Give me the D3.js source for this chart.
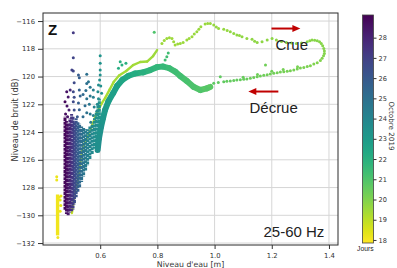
<!DOCTYPE html>
<html>
<head>
<meta charset="utf-8">
<script src="https://cdn.jsdelivr.net/npm/d3@7/dist/d3.min.js"></script>
<style>
  body { margin: 0; background: #fff; }
  svg { display: block; }
</style>
</head>
<body>
<svg id="chart" width="397" height="268"></svg>
<script>
// ---- data: [water level (m), noise (dB), day of October] ----
const levelTicks = [0.6, 0.8, 1.0, 1.2, 1.4];
const levelLabels = ["0.6", "0.8", "1.0", "1.2", "1.4"];
const noiseTicks = [-116, -118, -120, -122, -124, -126, -128, -130, -132];
const noiseLabels = ["\u2212116", "118", "120", "122", "124", "126", "128", "\u2212130", "\u2212132"];
const dayTicks = [18, 19, 20, 21, 22, 23, 24, 25, 26, 27, 28];

// dense vertical runs of points: [level, top, bottom, day]
const denseRuns = [
  [0.451, -128.5, -131.45, 18.1],
  [0.597, -121.6, -124.2, 23.3],
  [0.592, -122.0, -124.7, 23.4],
  [0.586, -122.6, -124.9, 23.5],
  [0.580, -123.0, -125.2, 23.6],
  [0.572, -123.4, -125.6, 23.8],
  [0.564, -123.6, -126.0, 24.0],
  [0.556, -123.8, -126.4, 24.2],
  [0.549, -123.8, -126.8, 24.4],
  [0.542, -123.7, -127.2, 24.7],
  [0.535, -123.6, -127.6, 25.0],
  [0.528, -123.4, -128.0, 25.3],
  [0.522, -123.3, -128.3, 25.7],
  [0.516, -123.0, -128.7, 26.1],
  [0.510, -123.2, -129.2, 26.5],
  [0.505, -122.9, -129.6, 26.9],
  [0.500, -122.7, -129.7, 27.3],
  [0.494, -123.0, -129.8, 27.8],
  [0.488, -123.4, -130.0, 28.3],
  [0.482, -123.2, -129.9, 28.7],
  [0.477, -122.9, -129.6, 28.9]
];

const yellowDots = [
  [0.448, -127.22, 18.2], [0.448, -127.46, 18.2], [0.460, -128.9, 18.2], [0.462, -129.3, 18.25],
  [0.460, -129.7, 18.2], [0.456, -128.7, 18.15], [0.463, -128.6, 18.3], [0.452, -131.6, 18.1]
];

// rising limb, dense part
const crueStrand = [
  [0.501, -129.84, 18.9], [0.506, -129.1, 18.95], [0.512, -128.32, 19.0], [0.519, -127.82, 19.0],
  [0.528, -126.59, 19.05], [0.537, -125.30, 19.1], [0.547, -124.72, 19.1], [0.558, -124.29, 19.15],
  [0.572, -123.50, 19.2], [0.588, -122.63, 19.2], [0.606, -121.91, 19.25], [0.617, -121.55, 19.3],
  [0.633, -120.94, 19.3], [0.647, -120.40, 19.35], [0.666, -119.93, 19.35], [0.691, -119.60, 19.4],
  [0.715, -119.17, 19.4], [0.740, -118.95, 19.45], [0.764, -118.92, 19.45], [0.785, -118.52, 19.5],
  [0.799, -118.09, 19.5]
];

// rising limb, sparse part (Crue)
const crueDots = [
  [0.816, -117.61, 19.5], [0.824, -117.41, 19.5], [0.833, -117.25, 19.5], [0.842, -117.2, 19.5],
  [0.851, -117.25, 19.5], [0.857, -117.5, 19.5], [0.862, -117.73, 19.5], [0.871, -117.65, 19.5],
  [0.880, -117.61, 19.55], [0.890, -117.55, 19.55], [0.903, -117.37, 19.55], [0.911, -117.26, 19.55],
  [0.921, -117.13, 19.55], [0.929, -116.94, 19.6], [0.938, -116.77, 19.6], [0.945, -116.6, 19.6],
  [0.952, -116.41, 19.6], [0.967, -116.22, 19.6], [0.976, -116.18, 19.6], [0.985, -116.17, 19.6],
  [0.997, -116.29, 19.65], [1.006, -116.42, 19.65], [1.014, -116.53, 19.65], [1.032, -116.60, 19.65],
  [1.044, -116.68, 19.65], [1.055, -116.77, 19.7], [1.067, -116.89, 19.7], [1.078, -117.01, 19.7],
  [1.087, -117.05, 19.7], [1.096, -117.13, 19.7], [1.113, -117.25, 19.7], [1.131, -117.32, 19.75],
  [1.140, -117.45, 19.75], [1.149, -117.54, 19.75], [1.166, -117.49, 19.75], [1.184, -117.37, 19.75],
  [1.201, -117.25, 19.8], [1.216, -117.37, 19.8], [1.234, -117.48, 19.8], [1.251, -117.55, 19.8],
  [1.269, -117.59, 19.8], [1.286, -117.61, 19.85], [1.304, -117.59, 19.85], [1.324, -117.49, 19.85],
  [1.333, -117.42, 19.85], [1.341, -117.37, 19.85], [1.350, -117.38, 19.9], [1.359, -117.42, 19.9],
  [1.367, -117.5, 19.9], [1.373, -117.61, 19.9], [1.378, -117.78, 19.9], [1.382, -117.97, 19.95],
  [1.384, -118.15, 19.95], [1.384, -118.33, 19.95], [1.381, -118.5, 19.95], [1.376, -118.69, 20.0]
];

// falling limb, sparse part (Décrue)
const decrueDots = [
  [1.370, -118.85, 20.0], [1.359, -119.00, 20.0], [1.347, -119.10, 20.05], [1.335, -119.22, 20.05],
  [1.324, -119.28, 20.1], [1.312, -119.34, 20.1], [1.300, -119.39, 20.1], [1.289, -119.46, 20.15],
  [1.277, -119.53, 20.15], [1.265, -119.58, 20.2], [1.254, -119.62, 20.2], [1.242, -119.65, 20.2],
  [1.230, -119.68, 20.25], [1.219, -119.73, 20.25], [1.207, -119.77, 20.3], [1.195, -119.82, 20.3],
  [1.184, -119.87, 20.3], [1.178, -119.17, 20.3], [1.172, -119.91, 20.35], [1.160, -119.96, 20.35],
  [1.149, -120.01, 20.4], [1.137, -120.07, 20.4], [1.125, -120.13, 20.4], [1.113, -120.17, 20.45],
  [1.102, -120.20, 20.45], [1.090, -120.23, 20.5], [1.078, -120.25, 20.5], [1.067, -120.29, 20.5],
  [1.055, -120.32, 20.55], [1.043, -120.34, 20.55], [1.032, -120.37, 20.6], [1.020, -120.01, 20.6],
  [1.013, -120.43, 20.6], [0.997, -120.49, 20.65], [0.979, -120.68, 20.7], [0.961, -120.85, 20.75],
  [1.290, -119.30, 20.15], [1.240, -119.50, 20.2], [1.200, -119.62, 20.3], [1.150, -119.85, 20.35],
  [1.100, -120.05, 20.45]
];

// falling limb, dense band
const decrueBand = [
  [0.985, -120.75, 20.7], [0.973, -120.85, 20.8], [0.950, -120.97, 20.9], [0.926, -120.74, 21.0],
  [0.903, -120.32, 21.1], [0.880, -119.96, 21.2], [0.862, -119.64, 21.3], [0.841, -119.39, 21.4],
  [0.820, -119.28, 21.5], [0.799, -119.32, 21.6], [0.775, -119.53, 21.8], [0.750, -119.70, 21.9],
  [0.722, -119.78, 22.1], [0.698, -119.96, 22.3], [0.677, -120.25, 22.4], [0.659, -120.68, 22.6],
  [0.645, -121.21, 22.7], [0.629, -121.77, 22.9], [0.617, -122.41, 23.0], [0.610, -122.99, 23.1],
  [0.603, -123.62, 23.3], [0.596, -124.43, 23.5], [0.591, -125.30, 23.6]
];

const strayDots = [
  [0.789, -116.81, 21.0], [0.670, -118.93, 22.0], [0.676, -119.17, 22.0], [0.664, -119.41, 22.1],
  [0.833, -118.57, 21.3], [0.827, -118.81, 21.3], [0.838, -118.3, 21.3], [0.690, -119.05, 22.0]
];

// scattered points above the low-water cluster
const clusterDots = [
  [0.600, -118.50, 23.3], [0.600, -119.05, 23.4], [0.600, -119.53, 23.4], [0.600, -119.89, 23.5],
  [0.598, -120.25, 23.5], [0.602, -120.68, 23.5], [0.605, -121.21, 23.5],
  [0.594, -120.60, 23.7], [0.592, -121.10, 23.7], [0.594, -121.60, 23.7], [0.590, -122.00, 23.8], [0.588, -122.5, 23.8],
  [0.576, -120.97, 24.3], [0.576, -121.50, 24.3], [0.579, -122.20, 24.2], [0.576, -122.8, 24.2],
  [0.559, -120.37, 24.8], [0.565, -120.78, 24.6], [0.565, -121.40, 24.6], [0.562, -122.00, 24.7],
  [0.565, -122.70, 24.5], [0.567, -123.3, 24.4],
  [0.553, -119.84, 25.0], [0.553, -120.50, 25.0], [0.550, -121.00, 25.1], [0.553, -121.60, 24.9],
  [0.547, -122.10, 25.1], [0.553, -122.60, 24.9], [0.540, -122.9, 25.2], [0.540, -121.3, 25.3],
  [0.524, -119.89, 25.9], [0.527, -120.09, 25.8], [0.527, -120.97, 25.8], [0.530, -121.41, 25.6],
  [0.524, -121.9, 25.8], [0.527, -122.4, 25.7], [0.520, -122.9, 26.0],
  [0.506, -116.84, 27.2], [0.506, -118.65, 26.8], [0.506, -119.60, 26.7], [0.501, -119.53, 26.9],
  [0.509, -120.45, 26.6], [0.506, -121.10, 26.6], [0.509, -121.50, 26.5], [0.506, -121.82, 26.6],
  [0.509, -122.41, 26.5],
  [0.495, -120.97, 27.8], [0.483, -121.10, 28.6], [0.488, -121.48, 28.4], [0.477, -121.82, 28.9],
  [0.484, -122.13, 28.6], [0.491, -122.41, 28.2], [0.479, -122.70, 28.8], [0.486, -122.9, 28.5]
];

// ---- drawing ----
const svg = d3.select("#chart");
const plotLeft = 43, plotRight = 338, plotTop = 13, plotBottom = 245;

const x = d3.scaleLinear().domain([0.4, 1.4316]).range([plotLeft, plotRight]);
const y = d3.scaleLinear().domain([-132.14, -115.42]).range([plotBottom, plotTop]);
const color = d3.scaleSequential(d3.interpolateViridis).domain([29.12, 17.85]);

const tickFont = "DejaVu Sans, sans-serif";

const defs = svg.append("defs");
defs.append("clipPath").attr("id", "plotclip")
  .append("rect").attr("x", plotLeft).attr("y", plotTop)
  .attr("width", plotRight - plotLeft).attr("height", plotBottom - plotTop);

// grid
const grid = svg.append("g").attr("stroke", "#d6d6d6").attr("stroke-width", 1);
grid.selectAll(null).data(levelTicks).join("line")
  .attr("x1", d => x(d)).attr("x2", d => x(d)).attr("y1", plotTop).attr("y2", plotBottom);
grid.selectAll(null).data(noiseTicks).join("line")
  .attr("y1", d => y(d)).attr("y2", d => y(d)).attr("x1", plotLeft).attr("x2", plotRight);

const plot = svg.append("g").attr("clip-path", "url(#plotclip)");

function trail(pts, w) {
  plot.append("g").selectAll(null).data(d3.pairs(pts)).join("line")
    .attr("x1", d => x(d[0][0])).attr("y1", d => y(d[0][1]))
    .attr("x2", d => x(d[1][0])).attr("y2", d => y(d[1][1]))
    .attr("stroke", d => color((d[0][2] + d[1][2]) / 2))
    .attr("stroke-width", w).attr("stroke-linecap", "round");
}
function dots(pts, r) {
  plot.append("g").selectAll(null).data(pts).join("circle")
    .attr("cx", d => x(d[0])).attr("cy", d => y(d[1])).attr("r", r)
    .attr("fill", d => color(d[2]));
}

dots(yellowDots, 1.5);
trail(decrueBand, 6);
trail(crueStrand, 2.4);

// dense runs drawn as lightly dashed strokes so they keep a point-cloud texture
plot.append("g").selectAll(null)
  .data(denseRuns.slice().sort((a, b) => a[3] - b[3])).join("line")
  .attr("x1", d => x(d[0])).attr("x2", d => x(d[0]))
  .attr("y1", d => y(d[1])).attr("y2", d => y(d[2]))
  .attr("stroke", d => color(d[3]))
  .attr("stroke-width", d => d[3] < 19 ? 3.4 : 3)
  .attr("stroke-dasharray", d => d[3] < 19 ? null : "3 0.7")
  .attr("stroke-dashoffset", (d, i) => (i % 3) * 1.2);

dots(clusterDots.slice().sort((a, b) => a[2] - b[2]), 1.5);
dots(crueDots, 1.5);
dots(decrueDots, 1.5);
dots(strayDots, 1.5);

// frame
svg.append("rect").attr("x", plotLeft).attr("y", plotTop)
  .attr("width", plotRight - plotLeft).attr("height", plotBottom - plotTop)
  .attr("fill", "none").attr("stroke", "#2b2b2b").attr("stroke-width", 1);

// axes
const xAxis = svg.append("g").attr("transform", `translate(0,${plotBottom})`)
  .call(d3.axisBottom(x).tickValues(levelTicks).tickFormat((d, i) => levelLabels[i]).tickSize(4).tickSizeOuter(0));
const yAxis = svg.append("g").attr("transform", `translate(${plotLeft},0)`)
  .call(d3.axisLeft(y).tickValues(noiseTicks).tickFormat((d, i) => noiseLabels[i]).tickSize(5).tickSizeOuter(0));
[xAxis, yAxis].forEach(a => {
  a.select(".domain").remove();
  a.selectAll(".tick line").attr("stroke", "#333");
  a.selectAll(".tick text").attr("fill", "#333")
    .style("font-family", tickFont).style("font-size", "6.8px");
});
xAxis.selectAll(".tick text").attr("dy", null).attr("y", 13);
yAxis.selectAll(".tick text").attr("x", -8);

svg.append("text").attr("x", (plotLeft + plotRight) / 2).attr("y", 266.5)
  .attr("text-anchor", "middle").attr("fill", "#333")
  .style("font-family", tickFont).style("font-size", "7.8px")
  .text("Niveau d'eau [m]");
svg.append("text").attr("transform", "translate(18,120) rotate(-90)")
  .attr("text-anchor", "middle").attr("fill", "#333")
  .style("font-family", tickFont).style("font-size", "8.2px")
  .text("Niveau de bruit (dB)");

// annotations
const textFont = "Liberation Sans, Arial, sans-serif";
svg.append("text").attr("x", x(0.4175)).attr("y", y(-117.01))
  .style("font-family", textFont).style("font-weight", "bold").style("font-size", "15px")
  .attr("fill", "#111").text("Z");
svg.append("text").attr("x", x(1.171)).attr("y", y(-131.57))
  .style("font-family", textFont).style("font-size", "15px").attr("fill", "#222").text("25-60 Hz");
svg.append("text").attr("x", x(1.213)).attr("y", y(-118.09))
  .style("font-family", textFont).style("font-size", "15px").attr("fill", "#222").text("Crue");
svg.append("text").attr("x", x(1.122)).attr("y", y(-122.61))
  .style("font-family", textFont).style("font-size", "15px").attr("fill", "#222").text("D\u00e9crue");

const arrows = [
  { from: [1.199, -116.54], to: [1.300, -116.54] },
  { from: [1.223, -121.08], to: [1.118, -121.08] }
];
arrows.forEach(a => {
  const x0 = x(a.from[0]), x1 = x(a.to[0]), yy = y(a.from[1]);
  const dir = Math.sign(x1 - x0);
  svg.append("line").attr("x1", x0).attr("x2", x1 - dir * 7).attr("y1", yy).attr("y2", yy)
    .attr("stroke", "#c00000").attr("stroke-width", 2);
  svg.append("path")
    .attr("d", `M${x1},${yy}L${x1 - dir * 8},${yy - 3.5}L${x1 - dir * 8},${yy + 3.5}Z`)
    .attr("fill", "#c00000");
});

// colorbar
const cbX = 362.5, cbW = 11, cbTop = 15, cbBottom = 243;
const cy = d3.scaleLinear().domain([17.85, 29.12]).range([cbBottom, cbTop]);
const grad = defs.append("linearGradient").attr("id", "cbgrad")
  .attr("x1", 0).attr("y1", 1).attr("x2", 0).attr("y2", 0);
grad.selectAll("stop").data(d3.range(0, 1.0001, 0.05)).join("stop")
  .attr("offset", d => d)
  .attr("stop-color", d => color(cy.domain()[0] + d * (cy.domain()[1] - cy.domain()[0])));
svg.append("rect").attr("x", cbX).attr("y", cbTop).attr("width", cbW).attr("height", cbBottom - cbTop)
  .attr("fill", "url(#cbgrad)").attr("stroke", "#444").attr("stroke-width", 0.8);
const cbAxis = svg.append("g").attr("transform", `translate(${cbX + cbW},0)`)
  .call(d3.axisRight(cy).tickValues(dayTicks).tickSize(3).tickSizeOuter(0));
cbAxis.select(".domain").remove();
cbAxis.selectAll(".tick line").attr("stroke", "#333");
cbAxis.selectAll(".tick text").attr("x", 5).attr("fill", "#333")
  .style("font-family", tickFont).style("font-size", "6.6px");

svg.append("text").attr("x", 357).attr("y", 250.5)
  .style("font-family", textFont).style("font-size", "6.8px").attr("fill", "#222").text("Jours");
svg.append("text").attr("transform", "translate(389,126) rotate(90)")
  .attr("text-anchor", "middle").attr("fill", "#333")
  .style("font-family", tickFont).style("font-size", "7.2px")
  .text("Octobre 2019");
</script>
</body>
</html>
